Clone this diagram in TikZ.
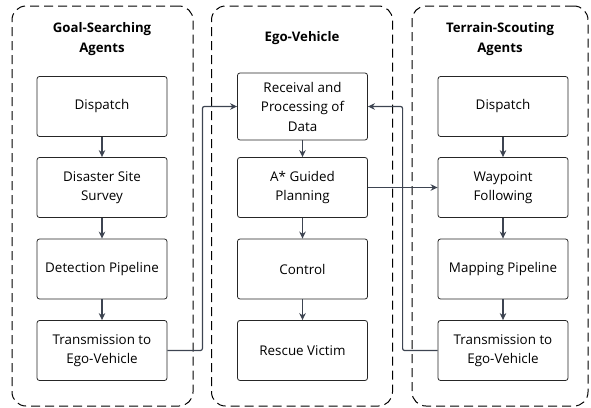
\documentclass[tikz,border=0pt]{standalone}
\usepackage{fontspec}
\setmainfont{Open Sans}
\usetikzlibrary{arrows.meta}

\definecolor{linkgray}{HTML}{3D4451}

\tikzset{
  lane/.style={draw=black, line width=1pt, dash pattern=on 9pt off 5pt,
    rounded corners=14pt, minimum width=181pt, minimum height=400pt},
  lanetitle/.style={font=\fontsize{13.2}{20.5}\selectfont\bfseries, align=center},
  stage/.style={draw=black!85, line width=0.8pt, rounded corners=2.5pt,
    minimum width=130pt, minimum height=60pt, align=center,
    font=\fontsize{13.4}{19.5}\selectfont},
  flow/.style={draw=linkgray, line width=1.2pt, rounded corners=2pt,
    -{Stealth[length=7pt,width=6.5pt]}},
}

\begin{document}
\begin{tikzpicture}[x=1pt,y=-1pt]
  \useasboundingbox (0,0) rectangle (591,407);

  % Lanes
  \node[lane] (goal) at (102.5,206) {};
  \node[lane] (ego) at (302,206) {};
  \node[lane, minimum width=176pt] (terr) at (500,206) {};

  \node[lanetitle] (goaltitle) at (102,39) {Goal-Searching\\Agents};
  \node[lanetitle] (egotitle) at (302,38.5) {Ego-Vehicle};
  \node[lanetitle] (terrtitle) at (500,39) {Terrain-Scouting\\Agents};

  % Goal-searching agents
  \node[stage] (gdisp) at (102,106.5) {Dispatch};
  \node[stage] (gsurv) at (102,187.5) {Disaster Site\\Survey};
  \node[stage] (gdet) at (102,269) {Detection Pipeline};
  \node[stage] (gtx) at (102,350.5) {Transmission to\\Ego-Vehicle};

  % Ego-vehicle
  \node[stage, minimum height=67pt] (recv) at (302.5,106.5) {Receival and\\Processing of\\Data};
  \node[stage] (plan) at (302.5,187.5) {A* Guided\\Planning};
  \node[stage] (ctrl) at (302.5,269) {Control};
  \node[stage] (rescue) at (302.5,350.5) {Rescue Victim};

  % Terrain-scouting agents
  \node[stage] (tdisp) at (503,106.5) {Dispatch};
  \node[stage] (wpt) at (503,187.5) {Waypoint\\Following};
  \node[stage] (tmap) at (503,269) {Mapping Pipeline};
  \node[stage] (ttx) at (503,350.5) {Transmission to\\Ego-Vehicle};

  % Links
  \foreach \a/\b in {gdisp/gsurv, gsurv/gdet, gdet/gtx,
                     recv/plan, plan/ctrl, ctrl/rescue,
                     tdisp/wpt, wpt/tmap, tmap/ttx}
    \draw[flow] (\a) -- (\b);

  \draw[flow] (gtx.east) -- ++(35,0) |- (recv.west);
  \draw[flow] (ttx.west) -- ++(-35,0) |- (recv.east);
  \draw[flow] (plan) -- (wpt);
\end{tikzpicture}
\end{document}
